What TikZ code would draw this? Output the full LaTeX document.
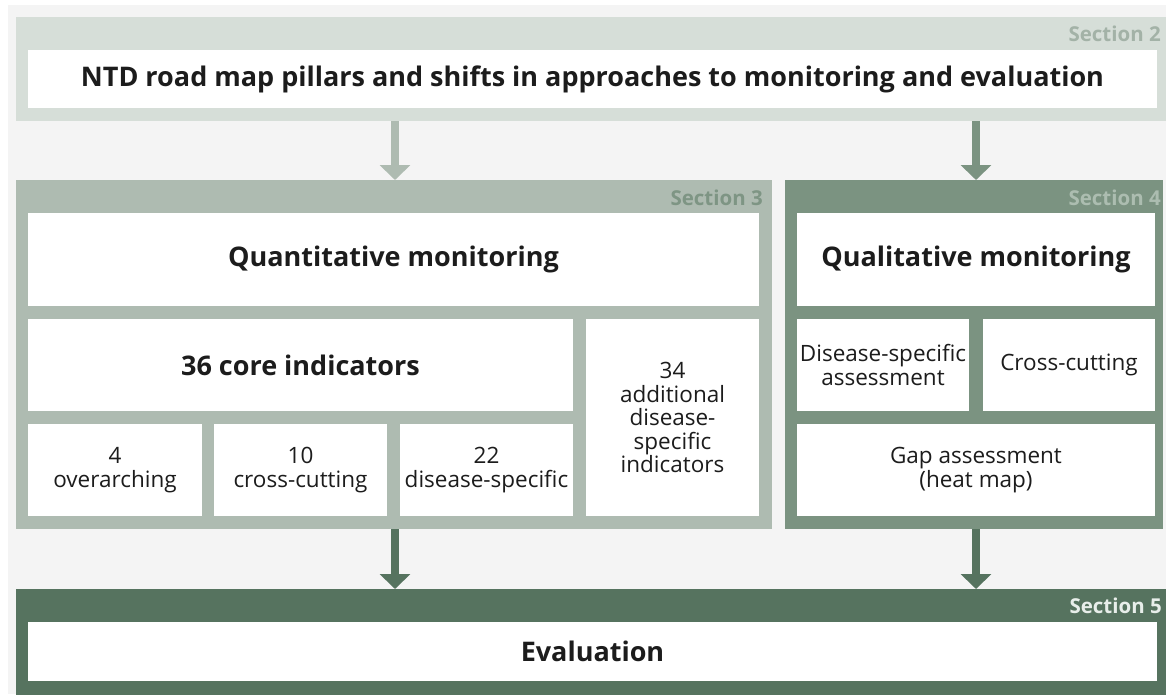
\documentclass[tikz,border=0pt]{standalone}
\usepackage{fontspec}
\setmainfont{Open Sans}
\usetikzlibrary{arrows.meta}

\definecolor{pagebg}{HTML}{F4F4F4}
\definecolor{secA}{HTML}{D6DED8}
\definecolor{secB}{HTML}{AEBBB1}
\definecolor{secC}{HTML}{7B9381}
\definecolor{secD}{HTML}{56735F}
\definecolor{labA}{HTML}{A3B2A7}
\definecolor{labB}{HTML}{7E9584}
\definecolor{labC}{HTML}{ACBDB0}
\definecolor{labD}{HTML}{E8EEEA}
\definecolor{ink}{HTML}{1C1C1C}

% rectangle node spanning the box (x1,y1)-(x2,y2)
\newcommand\spanbox[7]{%
  \node[#6, minimum width={#4-#2}, minimum height={#5-#3}]
    (#1) at ({(#2+#4)/2},{(#3+#5)/2}) {#7};}

\tikzset{
  panel/.style={rectangle, inner sep=0pt, outer sep=0pt, draw=none},
  cell/.style={rectangle, inner sep=0pt, outer sep=0pt, fill=white,
    text=ink, align=center, font=\fontsize{22.5}{23.5}\selectfont},
  headcell/.style={cell, font=\fontsize{27}{32}\bfseries},
  seclabel/.style={anchor=east, inner sep=0pt, font=\fontsize{20.5}{24}\bfseries},
  flow/.style={line width=8pt, -{Triangle[width=30pt,length=15pt]}},
}

\begin{document}
\begin{tikzpicture}[x=1pt,y=-1pt]
\useasboundingbox (0,0) rectangle (1166,694);
\fill[white] (0,0) rectangle (1166,694);
\fill[pagebg] (8,5) rectangle (1166,694);

% section panels
\spanbox{s2}{16}{17}{1166}{121}{panel, fill=secA}{}
\spanbox{s3}{16}{180}{772}{529}{panel, fill=secB}{}
\spanbox{s4}{785}{180}{1163}{529}{panel, fill=secC}{}
\spanbox{s5}{16}{589}{1166}{700}{panel, fill=secD}{}

% section labels
\node[seclabel, text=labA] (l2) at (1161,34) {Section 2};
\node[seclabel, text=labB] (l3) at (763,198) {Section 3};
\node[seclabel, text=labC] (l4) at (1161,198) {Section 4};
\node[seclabel, text=labD] (l5) at (1162,606) {Section 5};

% section 2
\spanbox{pillars}{28}{50}{1157}{108}{headcell}{NTD road map pillars and shifts in approaches to monitoring and evaluation}

% section 3
\spanbox{quant}{28}{213}{759}{306}{headcell}{Quantitative monitoring}
\spanbox{core}{28}{319}{573}{411}{headcell}{36 core indicators}
\spanbox{over}{28}{424}{202}{516}{cell}{4\\overarching}
\spanbox{cross}{214}{424}{387}{516}{cell}{10\\cross-cutting}
\spanbox{dspec}{400}{424}{573}{516}{cell}{22\\disease-specific}
\spanbox{addl}{586}{319}{759}{516}{cell}{34\\additional\\disease-\\specific\\indicators}

% section 4
\spanbox{qual}{797}{213}{1155}{306}{headcell}{Qualitative monitoring}
\spanbox{dsa}{797}{319}{969}{411}{cell}{Disease-specific\\assessment}
\spanbox{cc}{983}{319}{1155}{411}{cell}{Cross-cutting}
\spanbox{gap}{797}{424}{1155}{516}{cell}{Gap assessment\\(heat map)}

% section 5
\spanbox{eval}{28}{622}{1157}{681}{headcell}{Evaluation}

% connectors
\coordinate (xl) at (395,0);
\coordinate (xr) at (976,0);
\draw[flow, color=secB] (s2.south -| xl) -- (s3.north -| xl);
\draw[flow, color=secC] (s2.south -| xr) -- (s4.north -| xr);
\draw[flow, color=secD] (s3.south -| xl) -- (s5.north -| xl);
\draw[flow, color=secD] (s4.south -| xr) -- (s5.north -| xr);
\end{tikzpicture}
\end{document}
